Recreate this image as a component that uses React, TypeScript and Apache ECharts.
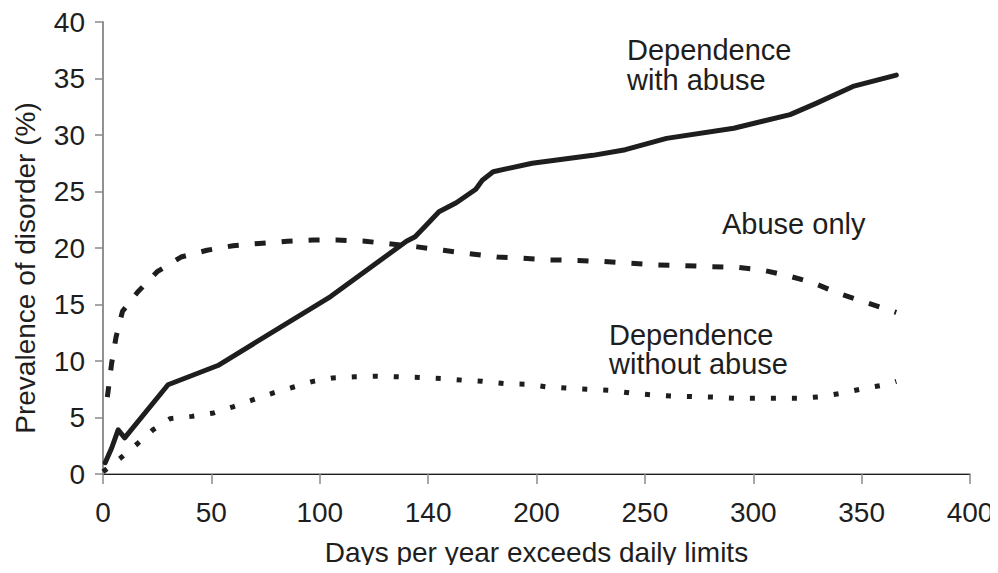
import React, { useEffect, useRef } from "react";
import * as echarts from "echarts";

const xTickLabels = ["0", "50", "100", "140", "200", "250", "300", "350", "400"];

const withAbuse: [number, number][] = [
  [1, 1], [4, 2.3], [7, 3.9], [10, 3.2], [30, 7.9], [53, 9.6], [105, 15.7],
  [140, 20.6], [144, 21.0], [149, 22.0], [155, 23.2], [163, 24.0], [172, 25.2],
  [175, 26.0], [180, 26.75], [198, 27.5], [226, 28.2], [241, 28.7], [260, 29.7],
  [291, 30.6], [317, 31.8], [329, 32.8], [346, 34.3], [366, 35.3],
];

const abuseOnly: [number, number][] = [
  [2, 6.8], [4, 9.8], [6, 12.1], [9, 14.4], [16, 16.1], [25, 17.9], [36, 19.2],
  [48, 19.8], [60, 20.2], [72, 20.4], [85, 20.6], [97, 20.7], [108, 20.7],
  [121, 20.6], [133, 20.35], [145, 20.1], [157, 19.8], [169, 19.5], [182, 19.2],
  [194, 19.1], [206, 18.95], [219, 18.9], [231, 18.8], [243, 18.65], [255, 18.5],
  [267, 18.45], [280, 18.35], [292, 18.3], [304, 18.05], [315, 17.6], [328, 16.9],
  [339, 16.0], [351, 15.25], [366, 14.3],
];

const withoutAbuse: [number, number][] = [
  [0, 0.2], [8, 1.4], [16, 2.7], [23, 3.9], [31, 4.9], [41, 5.1], [51, 5.4],
  [60, 5.95], [69, 6.55], [79, 7.2], [88, 7.7], [97, 8.2], [106, 8.5], [116, 8.6],
  [126, 8.65], [136, 8.6], [146, 8.55], [156, 8.45], [166, 8.3], [175, 8.2],
  [185, 8.0], [195, 7.95], [205, 7.7], [214, 7.6], [224, 7.5], [234, 7.4],
  [244, 7.15], [253, 7.0], [263, 6.9], [273, 6.85], [282, 6.8], [292, 6.7],
  [302, 6.7], [312, 6.7], [322, 6.7], [332, 6.85], [342, 7.2], [352, 7.6],
  [361, 7.9], [366, 8.2],
];

const FONT = "'Liberation Sans', Arial, sans-serif";
const INK = "#1e1e1e";
const GRAY = "#8a8a8a";

export default function App() {
  const ref = useRef<HTMLDivElement>(null);
  useEffect(() => {
    if (!ref.current) return;
    const chart = echarts.init(ref.current, undefined, { renderer: "svg" });
    const lineBase = { type: "line", showSymbol: false, smooth: false, z: 3 };
    chart.setOption({
      animation: false,
      backgroundColor: "#ffffff",
      textStyle: { fontFamily: FONT, color: INK },
      grid: { left: 103, right: 28, top: 22, bottom: 99, containLabel: false },
      xAxis: [
        {
          type: "value",
          min: 0,
          max: 400,
          interval: 50,
          position: "bottom",
          name: "Days per year exceeds daily limits",
          nameLocation: "middle",
          nameGap: 64,
          nameTextStyle: { fontFamily: FONT, fontSize: 28, color: INK },
          axisLine: { show: true, lineStyle: { color: GRAY, width: 1.5 } },
          axisTick: { show: true, length: 10, lineStyle: { color: GRAY, width: 1.5 } },
          axisLabel: {
            margin: 24,
            fontFamily: FONT,
            fontSize: 28,
            color: INK,
            formatter: (v: number) => xTickLabels[Math.round(v / 50)] ?? "",
          },
          splitLine: { show: false },
        },
        {
          type: "value",
          min: 0,
          max: 400,
          position: "top",
          axisLine: { show: true, lineStyle: { color: INK, width: 1.2 } },
          axisTick: { show: false },
          axisLabel: { show: false },
          splitLine: { show: false },
        },
      ],
      yAxis: [
        {
          type: "value",
          min: 0,
          max: 40,
          interval: 5,
          position: "left",
          name: "Prevalence of disorder (%)",
          nameLocation: "middle",
          nameGap: 64,
          nameRotate: 90,
          nameTextStyle: { fontFamily: FONT, fontSize: 28, color: INK, padding: [0, 40, 0, 0] },
          axisLine: { show: true, lineStyle: { color: GRAY, width: 1.5 } },
          axisTick: { show: true, length: 8, lineStyle: { color: GRAY, width: 1.5 } },
          axisLabel: { margin: 18, fontFamily: FONT, fontSize: 28, color: INK },
          splitLine: { show: false },
        },
        {
          type: "value",
          min: 0,
          max: 40,
          position: "right",
          axisLine: { show: true, lineStyle: { color: GRAY, width: 1.5 } },
          axisTick: { show: false },
          axisLabel: { show: false },
          splitLine: { show: false },
        },
      ],
      series: [
        {
          ...lineBase,
          name: "Dependence with abuse",
          data: withAbuse,
          lineStyle: { color: INK, width: 5, type: "solid", cap: "round", join: "round" },
        },
        {
          ...lineBase,
          name: "Abuse only",
          data: abuseOnly,
          lineStyle: { color: INK, width: 5, type: [11, 16], cap: "butt" },
        },
        {
          ...lineBase,
          name: "Dependence without abuse",
          data: withoutAbuse,
          lineStyle: { color: INK, width: 5, type: [5, 16], cap: "butt" },
        },
      ],
      graphic: [
        {
          type: "text",
          left: 627,
          top: 35,
          style: {
            text: "Dependence\nwith abuse",
            font: `29px ${FONT}`,
            fill: INK,
            lineHeight: 30,
          },
        },
        {
          type: "text",
          left: 722,
          top: 209,
          style: { text: "Abuse only", font: `29px ${FONT}`, fill: INK, lineHeight: 30 },
        },
        {
          type: "text",
          left: 609,
          top: 320,
          style: {
            text: "Dependence\nwithout abuse",
            font: `29px ${FONT}`,
            fill: INK,
            lineHeight: 29,
          },
        },
      ],
    });
    return () => chart.dispose();
  }, []);
  return <div ref={ref} style={{ width: 998, height: 573, margin: -8 }} />;
}
